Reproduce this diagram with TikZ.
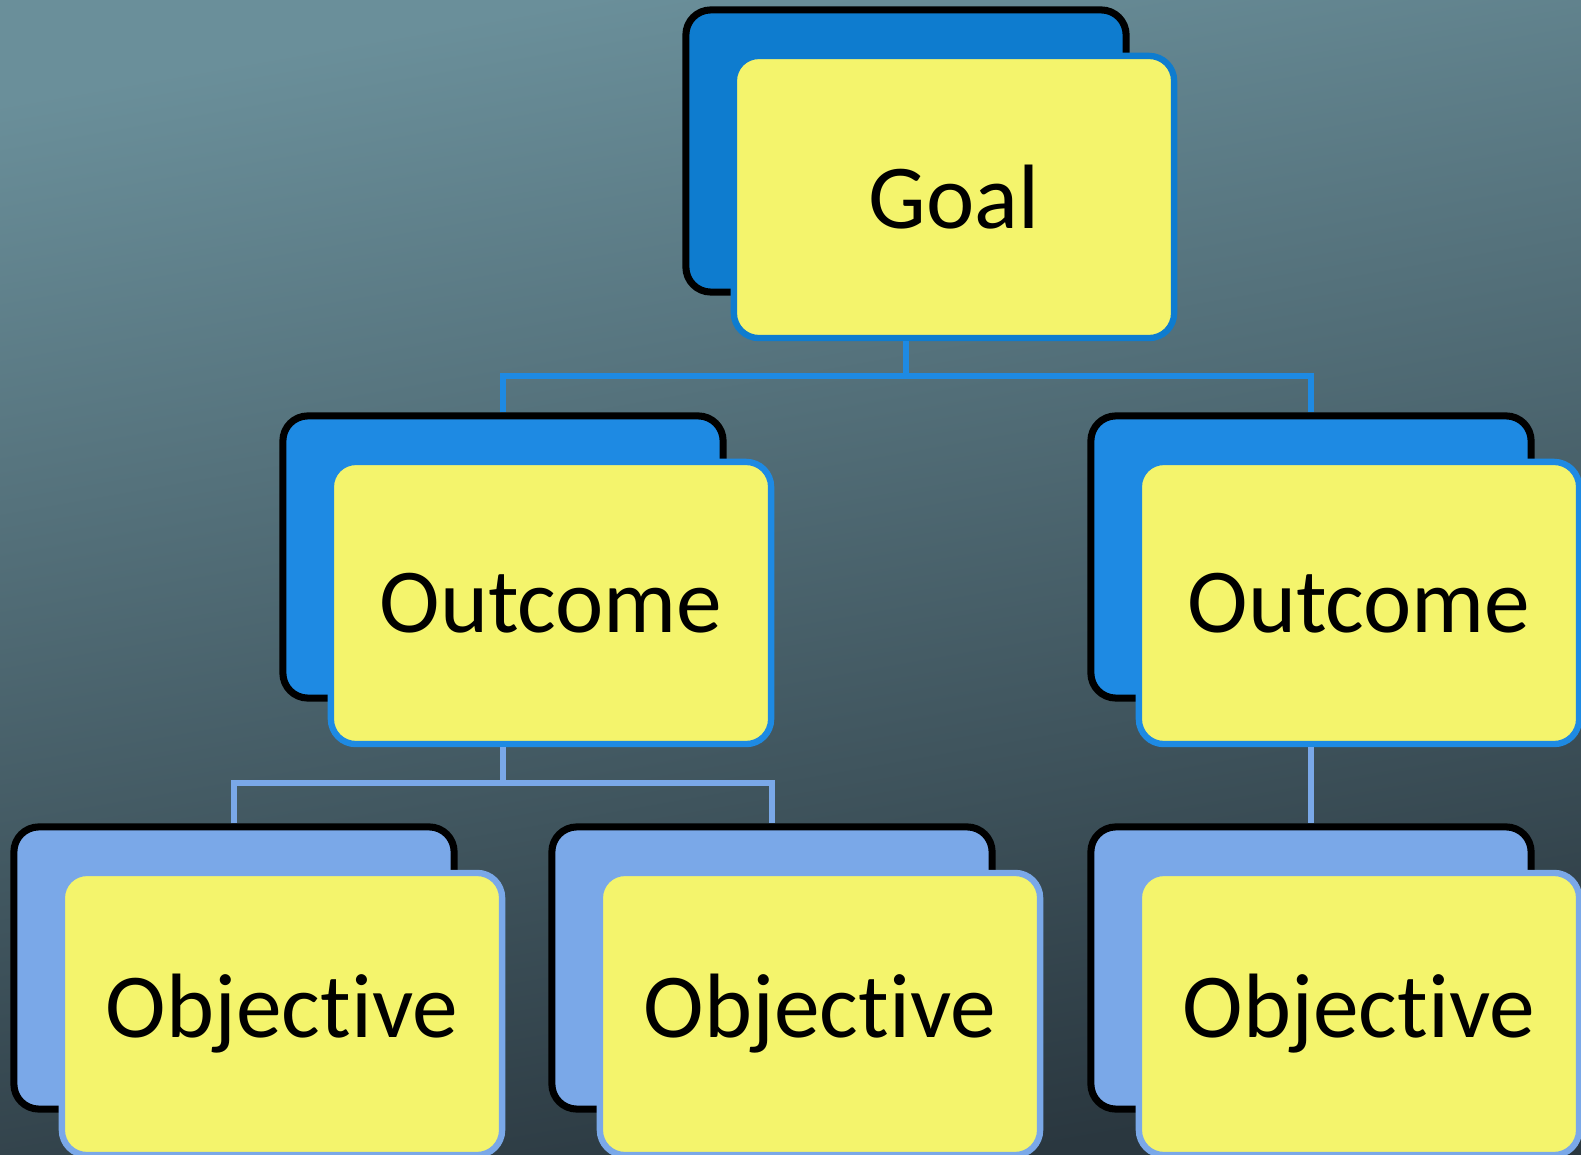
\documentclass[tikz,border=0pt]{standalone}
\usepackage{fontspec}
\setmainfont{Carlito}[Ligatures=NoCommon]
\usepackage{tikz}
\usetikzlibrary{positioning}

\definecolor{bgtop}{RGB}{106,143,154}
\definecolor{bgmid}{RGB}{72,97,108}
\definecolor{bgbot}{RGB}{42,55,63}
\definecolor{goalblue}{RGB}{14,124,207}
\definecolor{outblue}{RGB}{30,138,227}
\definecolor{objblue}{RGB}{122,168,232}
\definecolor{boxyellow}{RGB}{244,244,108}

\tikzset{
  backbox/.style={draw=black, line width=2pt, rounded corners=0.25cm,
    minimum width=4.4cm, minimum height=2.82cm},
  frontbox/.style={fill=boxyellow, line width=1.8pt, rounded corners=0.25cm,
    minimum width=4.4cm, minimum height=2.82cm, inner sep=0pt,
    font=\fontsize{26}{30}\selectfont},
  link/.style={line width=1.6pt}
}

\begin{document}
\begin{tikzpicture}[x=0.01cm, y=-0.01cm]
    % background
    \shade[top color=bgtop, middle color=bgmid, bottom color=bgbot, shading angle=10]
      (0,0) rectangle (1581,1155);
    \useasboundingbox (0,0) rectangle (1581,1155);

    % goal
    \node[backbox, fill=goalblue] (goalbk) at (906,151) {};
    \node[frontbox, draw=goalblue] (goal) at ([shift={(48,46)}]goalbk.center) {Goal};

    % outcomes
    \node[backbox, fill=outblue] (outLbk) at (503,557) {};
    \node[frontbox, draw=outblue] (outL) at ([shift={(48,46)}]outLbk.center) {Outcome};
    \node[backbox, fill=outblue] (outRbk) at (1311,557) {};
    \node[frontbox, draw=outblue] (outR) at ([shift={(48,46)}]outRbk.center) {Outcome};

    % objectives
    \node[backbox, fill=objblue] (objAbk) at (234,968) {};
    \node[frontbox, draw=objblue] (objA) at ([shift={(48,46)}]objAbk.center) {Objective};
    \node[backbox, fill=objblue] (objBbk) at (772,968) {};
    \node[frontbox, draw=objblue] (objB) at ([shift={(48,46)}]objBbk.center) {Objective};
    \node[backbox, fill=objblue] (objCbk) at (1311,968) {};
    \node[frontbox, draw=objblue] (objC) at ([shift={(48,46)}]objCbk.center) {Objective};

    % connectors
    \coordinate (busG) at (goalbk.center |- 0,376);
    \coordinate (busL) at (outLbk.center |- 0,783);
    \draw[link, draw=outblue] (goalbk.center |- goal.south) -- (busG);
    \draw[link, draw=outblue] (outLbk.north) |- (busG) -| (outRbk.north);
    \draw[link, draw=objblue] (outLbk.center |- outL.south) -- (busL);
    \draw[link, draw=objblue] (objAbk.north) |- (busL) -| (objBbk.north);
    \draw[link, draw=objblue] (outRbk.center |- outR.south) -- (objCbk.north);
  \end{tikzpicture}
\end{document}
